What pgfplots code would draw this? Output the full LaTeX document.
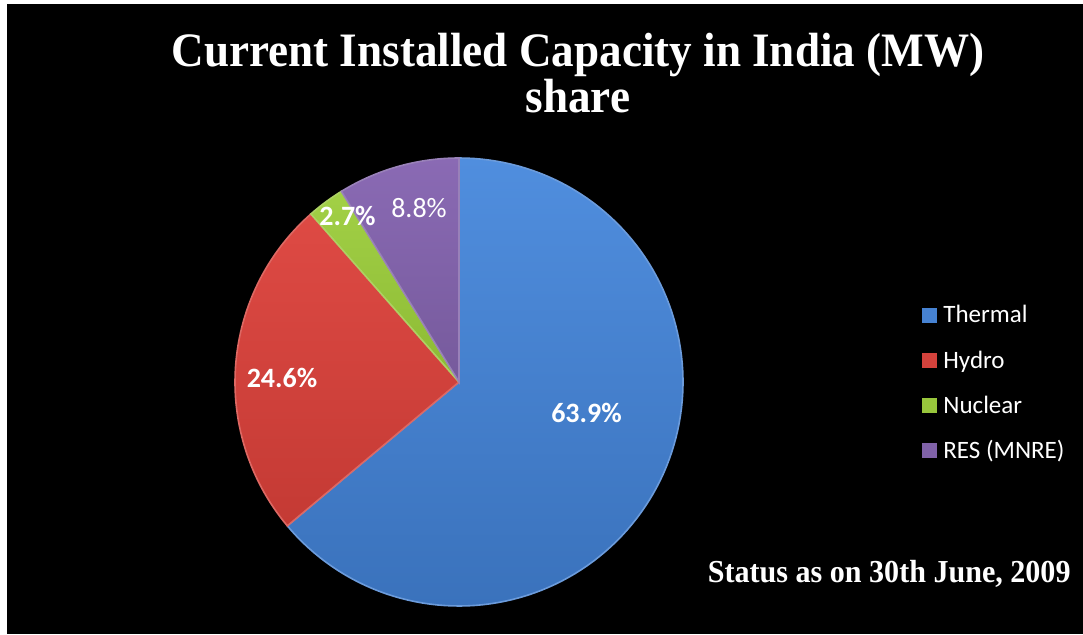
\documentclass[border=0pt]{standalone}
\usepackage{pgfplots}
\pgfplotsset{compat=1.18}
\usepackage{fontspec}
\setmainfont{Liberation Serif}
\newfontfamily\calib{Carlito}
\definecolor{thermal}{RGB}{70,130,210}
\definecolor{thermalT}{RGB}{80,142,222}
\definecolor{thermalB}{RGB}{58,114,188}
\definecolor{hydro}{RGB}{212,66,60}
\definecolor{hydroT}{RGB}{222,74,68}
\definecolor{hydroB}{RGB}{196,58,52}
\definecolor{nuclear}{RGB}{152,198,60}
\definecolor{nuclearT}{RGB}{162,208,70}
\definecolor{nuclearB}{RGB}{140,186,52}
\definecolor{res}{RGB}{128,98,168}
\definecolor{resT}{RGB}{138,106,180}
\definecolor{resB}{RGB}{118,90,156}
% shares (%) : Thermal 63.9, Hydro 24.6, Nuclear 2.7, RES (MNRE) 8.8
% slice angles (clockwise from 90 deg): start = previous end, end = start - share*3.6
\begin{document}
\begin{tikzpicture}
\begin{axis}[
  x=0.5pt, y=0.5pt, scale only axis,
  xmin=0, xmax=1083, ymin=0, ymax=634,
  axis lines=none, clip=false,
]
% background
\addplot[fill=white, draw=none] coordinates {(0,0) (1083,0) (1083,634) (0,634)} -- cycle;
\addplot[fill=black, draw=none] coordinates {(7,0) (1083,0) (1083,630) (7,630)} -- cycle;
% Thermal 63.9
\addplot[top color=thermalT, bottom color=thermalB, draw=thermal!80!white, line width=0.8pt, domain=-140.04:90, samples=120]
  ({459+224*cos(x)},{252+224*sin(x)}) -- (459,252) -- cycle;
% Hydro 24.6
\addplot[top color=hydroT, bottom color=hydroB, draw=hydro!80!white, line width=0.8pt, domain=-228.6:-140.04, samples=60]
  ({459+224*cos(x)},{252+224*sin(x)}) -- (459,252) -- cycle;
% Nuclear 2.7
\addplot[top color=nuclearT, bottom color=nuclearB, draw=nuclear!80!white, line width=0.8pt, domain=-238.32:-228.6, samples=12]
  ({459+224*cos(x)},{252+224*sin(x)}) -- (459,252) -- cycle;
% RES (MNRE) 8.8
\addplot[top color=resT, bottom color=resB, draw=res!80!white, line width=0.8pt, domain=-270:-238.32, samples=30]
  ({459+224*cos(x)},{252+224*sin(x)}) -- (459,252) -- cycle;
% data labels
\node[text=white, inner sep=0, font=\calib\bfseries\fontsize{14}{16}\selectfont] at (586.5,221.5) {63.9\%};
\node[text=white, inner sep=0, font=\calib\bfseries\fontsize{14}{16}\selectfont] at (282,256) {24.6\%};
\node[text=white, inner sep=0, font=\calib\bfseries\fontsize{14}{16}\selectfont] at (347.5,418.5) {2.7\%};
\node[text=white, inner sep=0, font=\calib\fontsize{14}{16}\selectfont] at (419,426) {8.8\%};
% title
\node[text=white, inner sep=0, anchor=base, font=\bfseries\fontsize{24}{28}\selectfont] at (578,568) {\scalebox{0.94}[1]{Current Installed Capacity in India (MW)}};
\node[text=white, inner sep=0, anchor=base, font=\bfseries\fontsize{24}{28}\selectfont] at (578,522) {\scalebox{0.94}[1]{share}};
% legend
\fill[thermal] (922,311.3) rectangle (937,326.3);
\fill[hydro] (922,265.7) rectangle (937,280.7);
\fill[nuclear] (922,220.7) rectangle (937,235.7);
\fill[res] (922,175.7) rectangle (937,190.7);
\node[text=white, inner sep=0, anchor=base west, font=\calib\fontsize{12.5}{15}\selectfont] at (943,311.3) {Thermal};
\node[text=white, inner sep=0, anchor=base west, font=\calib\fontsize{12.5}{15}\selectfont] at (943,265.7) {Hydro};
\node[text=white, inner sep=0, anchor=base west, font=\calib\fontsize{12.5}{15}\selectfont] at (943,220.7) {Nuclear};
\node[text=white, inner sep=0, anchor=base west, font=\calib\fontsize{12.5}{15}\selectfont] at (943,175.7) {RES (MNRE)};
% footnote
\node[text=white, inner sep=0, anchor=base east, font=\bfseries\fontsize{16}{19}\selectfont] at (1071,52) {\scalebox{0.94}[1]{Status as on 30th June, 2009}};
\end{axis}
\end{tikzpicture}
\end{document}
